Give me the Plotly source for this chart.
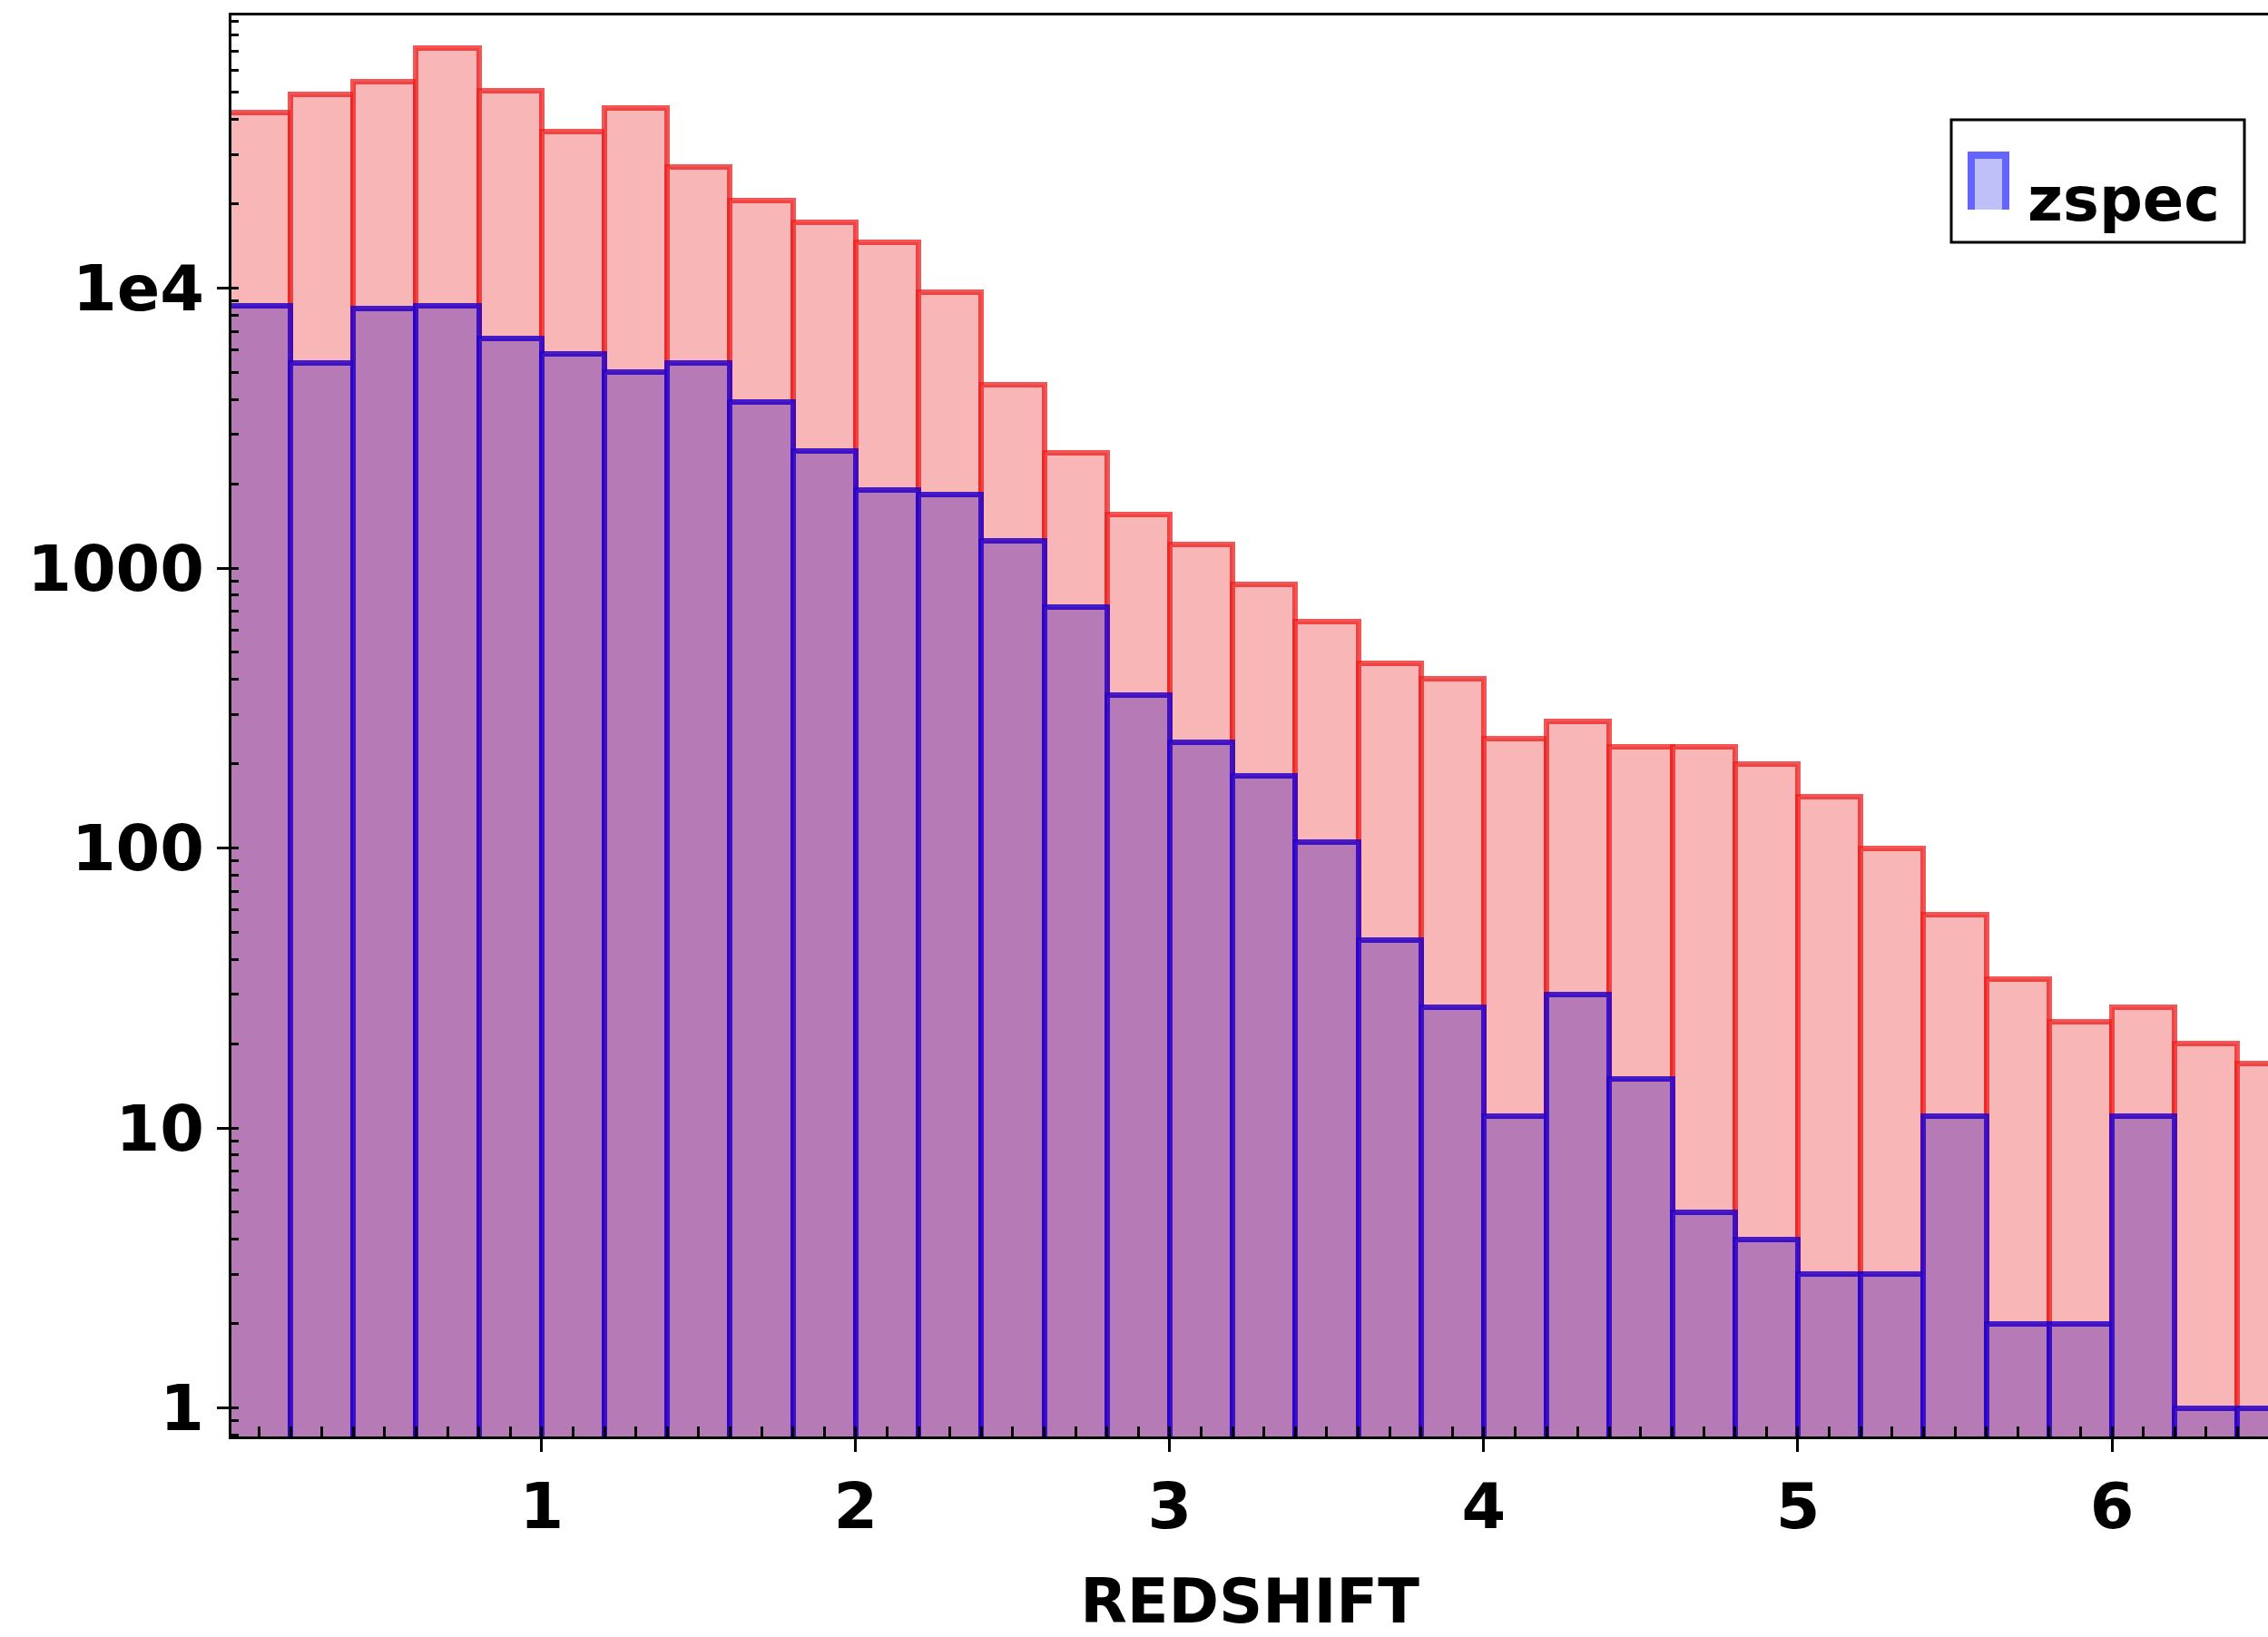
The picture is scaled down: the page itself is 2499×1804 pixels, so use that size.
import plotly.graph_objects as go

# Redshift histogram, bin width 0.2
bin_left = [round(0.2 * i, 1) for i in range(33)]
bin_width = 0.2

n_all = [42500, 49100, 54600, 71800, 50800, 36100, 44000, 27100, 20600, 17200,
         14600, 9660, 4520, 2580, 1550, 1210, 877, 644, 457, 401,
         246, 284, 230, 230, 199, 153, 100, 58, 34, 24,
         27, 20, 17]
n_zspec = [8670, 5390, 8470, 8670, 6600, 5800, 5030, 5390, 3920, 2620,
           1900, 1830, 1250, 726, 351, 238, 181, 105, 47, 27,
           11, 30, 15, 5, 4, 3, 3, 11, 2, 2,
           11, 1, 1]

y_tickvals = [1, 10, 100, 1000, 10000]
y_ticktext = ["1", "10", "100", "1000", "1e4"]
x_tickvals = [1, 2, 3, 4, 5, 6]

centers = [b + bin_width / 2 for b in bin_left]

TICK_FONT = dict(family="DejaVu Sans", size=70, color="black", weight="bold")
TEXT_FONT = dict(family="DejaVu Sans", size=67, color="black", weight="bold")

fig = go.Figure()
fig.add_trace(go.Bar(
    x=centers, y=n_all, width=bin_width, name="all",
    marker=dict(color="#f8b6b6", line=dict(color="rgba(238,30,30,0.75)", width=6)),
    showlegend=False,
))
fig.add_trace(go.Bar(
    x=centers, y=n_zspec, width=bin_width, name="zspec",
    marker=dict(color="#b67ab6", line=dict(color="rgba(40,0,200,0.85)", width=6)),
    showlegend=False,
))

# legend box drawn in paper coordinates
W, H = 2499, 1804
L, R, T, B = 255, 0, 17, 221
pw, ph = W - L - R, H - T - B


def px(x):
    return (x - L) / pw


def py(y):
    return (H - B - y) / ph


shapes = [
    dict(type="rect", xref="paper", yref="paper",
         x0=px(2150), x1=px(2473), y0=py(267), y1=py(132),
         line=dict(color="black", width=3), fillcolor="white", layer="above"),
    dict(type="path", xref="paper", yref="paper",
         path=(f"M {px(2172)},{py(231)} L {px(2172)},{py(171)} "
               f"L {px(2210)},{py(171)} L {px(2210)},{py(231)}"),
         line=dict(color="#6464ff", width=8), fillcolor="#c0c0f8", layer="above"),
]
annotations = [
    dict(text="zspec", xref="paper", yref="paper", x=px(2232), y=py(220),
         xanchor="left", yanchor="middle", showarrow=False, font=TEXT_FONT),
]

fig.update_layout(
    width=W, height=H,
    margin=dict(l=L, r=R, t=T, b=B),
    paper_bgcolor="white", plot_bgcolor="white",
    barmode="overlay", bargap=0,
    shapes=shapes, annotations=annotations,
    showlegend=False,
)
fig.update_xaxes(
    range=[0.012, 6.497],
    tickmode="array", tickvals=x_tickvals,
    ticks="outside", ticklen=14, tickwidth=3, tickcolor="black",
    minor=dict(ticks="inside", dtick=0.1, tick0=0, ticklen=11, tickwidth=3,
               tickcolor="black", showgrid=False),
    showline=True, linecolor="black", linewidth=3, mirror=True,
    showgrid=False, zeroline=False,
    tickfont=TICK_FONT,
    title=dict(text="REDSHIFT", font=TEXT_FONT, standoff=48),
)
fig.update_yaxes(
    type="log", range=[-0.102, 4.974],
    tickmode="array", tickvals=y_tickvals, ticktext=y_ticktext,
    ticks="outside", ticklen=13, tickwidth=3, tickcolor="black",
    minor=dict(ticks="inside", dtick="D1", ticklen=8, tickwidth=3,
               tickcolor="black", showgrid=False),
    showline=True, linecolor="black", linewidth=3, mirror=False,
    showgrid=False, zeroline=False,
    tickfont=TICK_FONT,
)

fig.write_html("out.html")
